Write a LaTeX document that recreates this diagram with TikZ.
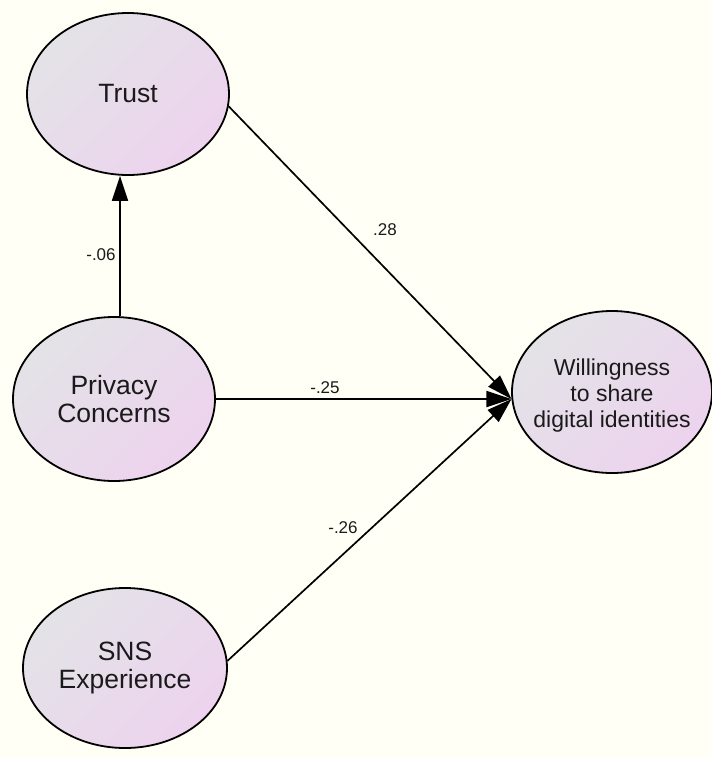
\documentclass[tikz,border=0pt]{standalone}
\usepackage{fontspec}
\setmainfont{Liberation Sans}
\usetikzlibrary{shapes.geometric,arrows.meta}

\definecolor{paper}{HTML}{FFFFF5}
\definecolor{latgrey}{HTML}{E3E3E7}
\definecolor{latmid}{HTML}{EEDDEA}
\definecolor{latpink}{HTML}{EDD3EE}
\definecolor{ink}{HTML}{1A1A1A}

\tikzset{
  latent/.style={ellipse, draw=black, line width=1.8pt, inner sep=0pt,
    top color=latgrey, middle color=latmid, bottom color=latpink,
    shading angle=45},
  lattext/.style={align=center, text=ink, font=\fontsize{26.5}{28}\selectfont},
  smalltext/.style={align=center, text=ink, font=\fontsize{23}{26}\selectfont},
  path/.style={line width=1.7pt, -{Triangle[length=25pt,width=16pt]}},
  coef/.style={text=ink, font=\fontsize{17}{18}\selectfont, inner sep=0pt}
}

\begin{document}
\begin{tikzpicture}[x=1pt,y=-1pt]
  \fill[paper] (0,0) rectangle (712,758);
  \useasboundingbox (0,0) rectangle (712,758);

  % latent variables
  \node[latent, minimum width=202pt, minimum height=162pt] (tr) at (128,94) {};
  \node[latent, minimum width=202pt, minimum height=164pt] (pc) at (114,399) {};
  \node[latent, minimum width=204pt, minimum height=160pt] (sns) at (125,668) {};
  \node[latent, minimum width=200pt, minimum height=162pt] (wl) at (612,392) {};

  \node[lattext] (trT) at (tr) {Trust};
  \node[lattext] (pcT) at (pc) {Privacy\\Concerns};
  \node[lattext] (snsT) at (sns) {SNS\\Experience};
  \node[smalltext] (wlT) at ([yshift=-4pt]wl.center) {Willingness\\to share\\digital identities};

  % structural paths
  \coordinate (pcTop) at ([xshift=6pt]pc.north);
  \draw[path] (pcTop) -- (pcTop |- tr.south);
  \draw[path] (tr.-7) -- (wl.184);
  \draw[path] (pc.east) -- (wl.184);
  \draw[path] (sns.4) -- (wl.184);

  % path coefficients
  \node[coef] (c1) at (101,255) {-.06};
  \node[coef] (c2) at (385,230) {.28};
  \node[coef] (c3) at (325,388) {-.25};
  \node[coef] (c4) at (343,528) {-.26};
\end{tikzpicture}
\end{document}
